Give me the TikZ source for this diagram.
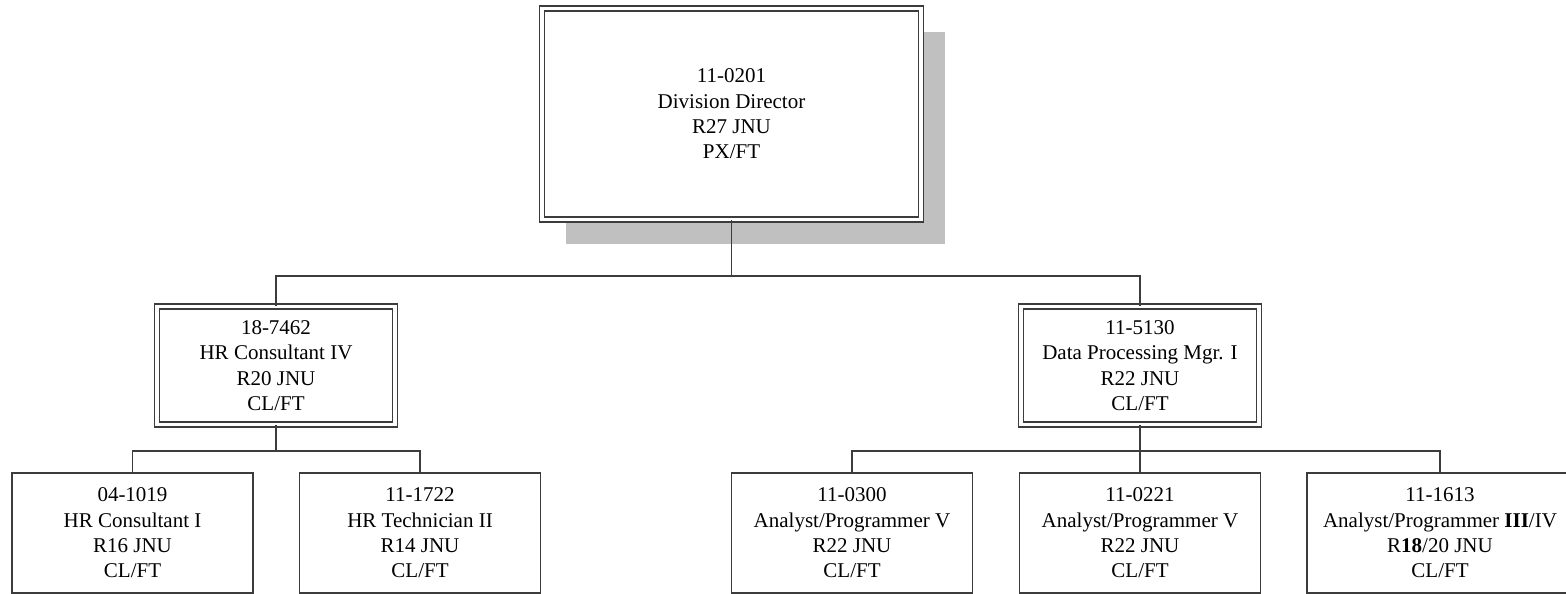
\documentclass[tikz,border=0pt]{standalone}
\usepackage{fontspec}
\setmainfont{Liberation Serif}
\usepackage{tikz}
\usetikzlibrary{positioning,shadows,calc}
\definecolor{ink}     {HTML}{3C3C3C}
\definecolor{dropgray}{HTML}{C0C0C0}
\tikzset{
  every node/.style={font=\fontsize{21}{25.3}\selectfont},
  % --- nodes
  job/.style   = {draw=ink, line width=1.9pt, fill=white, align=center, inner sep=0pt,
                  minimum width=241pt, minimum height=120pt},
  lead/.style  = {job, double=white, double distance=3.2pt, line width=1.5pt,
                  minimum width=238pt, minimum height=118pt},
  chief/.style = {lead, minimum width=379pt, minimum height=211pt,
                  drop shadow={shadow xshift=24pt, shadow yshift=-24pt, fill=dropgray, opacity=1}},
  % --- edges
  e/.style     = {draw=ink, line width=1.9pt},
}

\begin{document}
\begin{tikzpicture}[x=1pt,y=-1pt]
  \useasboundingbox (0,0) rectangle (1566,594);
  \node[chief] (dir) at (731.5,114) {11-0201\\Division Director\\R27 JNU\\PX/FT};
  \node[lead] (hr) at (276,365.5) {18-7462\\HR Consultant IV\\R20 JNU\\CL/FT};
  \node[lead] (dp) at (1140,365.5) {11-5130\\Data Processing Mgr. I\\R22 JNU\\CL/FT};
  \node[job] (hr1) at (132.5,533) {04-1019\\HR Consultant I\\R16 JNU\\CL/FT};
  \node[job] (hr2) at (420,533) {11-1722\\HR Technician II\\R14 JNU\\CL/FT};
  \node[job] (dp1) at (852,533) {11-0300\\Analyst/Programmer V\\R22 JNU\\CL/FT};
  \node[job] (dp2) at (1140,533) {11-0221\\Analyst/Programmer V\\R22 JNU\\CL/FT};
  \node[job, minimum width=266pt] (dp3) at (1440,533) {11-1613\\Analyst/Programmer \textbf{III}/IV\\R\textbf{18}/20 JNU\\CL/FT};
  \draw[e] (dir.south) -- ++(0,56) coordinate (j0) -| (hr.north);
  \draw[e] (j0) -| (dp.north);
  \draw[e] (hr.south) -- ++(0,26) coordinate (j1) -| (hr1.north);
  \draw[e] (j1) -| (hr2.north);
  \draw[e] (dp.south) -- ++(0,26) coordinate (j2) -| (dp1.north);
  \draw[e] (j2) -- (dp2.north);
  \draw[e] (j2) -| (dp3.north);
\end{tikzpicture}
\end{document}
